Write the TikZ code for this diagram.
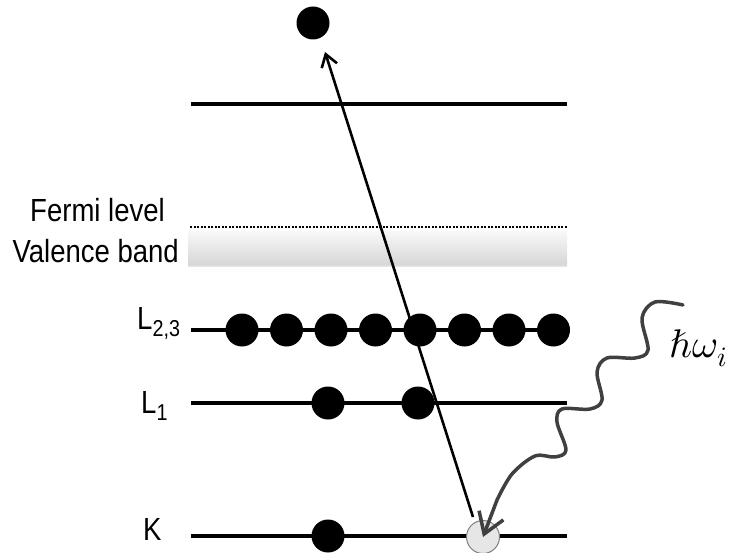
\documentclass[tikz,border=0pt]{standalone}
\usepackage{unicode-math}
\setmainfont{Liberation Sans}[FakeStretch=0.86]
\setmathfont{Latin Modern Math}
\usetikzlibrary{arrows.meta}
\definecolor{photon}{HTML}{404040}
\definecolor{vbTop}{HTML}{F7F7F7}
\definecolor{vbDark}{HTML}{D7D7D7}
\definecolor{vbBot}{HTML}{EBEBEB}
\definecolor{holefill}{HTML}{E6E6E6}
\definecolor{holeedge}{HTML}{7F7F7F}
\pgfdeclareverticalshading{vband}{100bp}{color(0bp)=(vbBot); color(25bp)=(vbBot); color(29bp)=(vbDark); color(75bp)=(vbTop); color(100bp)=(vbTop)}
\tikzset{
  level/.style={line width=3.2pt},
  electron/.style={circle, fill=black, inner sep=0pt, minimum size=33pt},
  hole/.style={circle, fill=holefill, draw=holeedge, line width=1pt, inner sep=0pt, minimum size=33pt},
  lbl/.style={font=\fontsize{32}{36}\selectfont, inner sep=0pt},
  photonline/.style={draw=photon, line width=3.5pt, line cap=round, line join=round},
  transition/.style={line width=2.6pt, -{Straight Barb[length=12pt,width=16pt,line width=2.6pt]}}
}
\begin{document}
\begin{tikzpicture}[x=1pt,y=-1pt]
\useasboundingbox (0,0) rectangle (733,553);
% level end points
\coordinate (topL) at (191,104);   \coordinate (topR) at (567,104);
\coordinate (fermiL) at (190,227); \coordinate (fermiR) at (567,227);
\coordinate (vbTL) at (188,232);   \coordinate (vbBR) at (567,267);
\coordinate (ltL) at (191,330);    \coordinate (ltR) at (567,330);
\coordinate (loL) at (191,403);    \coordinate (loR) at (567,403);
\coordinate (kL) at (191,536);     \coordinate (kR) at (567,536);
% valence band and Fermi level
\shade[shading=vband] (vbTL) rectangle (vbBR);
\draw[line width=2pt, dash pattern=on 2pt off 1.5pt] (fermiL) -- (fermiR);
% levels
\draw[level] (topL) -- (topR);
\draw[level] (ltL) -- (ltR);
\draw[level] (loL) -- (loR);
\draw[level] (kL) -- (kR);
% electrons
\node[electron] (e0) at (313,23) {};
\foreach \x [count=\i] in {242,286.5,331,375.5,420,464.5,509,553.5}
  \node[electron] (l23e\i) at (\x,330) {};
\node[electron] (l1a) at (328,403) {};
\node[electron] (l1b) at (418,403) {};
\node[electron] (ka) at (328,536) {};
\node[hole] (kh) at (483,537) {};
% labels
\node[lbl, anchor=base east] (tf) at (165,222) {Fermi level};
\node[lbl, anchor=base east] (tv) at (179,262) {Valence band};
\node[lbl, anchor=base west] (tl23) at (137,329) {L\raisebox{-7pt}{\fontsize{23}{24}\selectfont 2,3}};
\node[lbl, anchor=base west] (tl1) at (141,413) {L\raisebox{-7pt}{\fontsize{23}{24}\selectfont 1}};
\node[lbl, anchor=base west] (tk) at (143,540) {K};
\node[anchor=base west, inner sep=0pt, font=\fontsize{40}{44}\selectfont] (hw) at (669,357) {$ℏ\omega_i$};
% excitation arrow
\coordinate (arrS) at (473,517);
\coordinate (arrE) at (325,52);
\draw[transition] (arrS) -- (arrE);
% incoming photon
\coordinate (ph0) at (683,305);
\draw[photonline, -{Straight Barb[length=20pt,width=26pt,line width=3.5pt]}]
  plot[smooth, tension=0.55] coordinates {(ph0) (655,302) (642,318) (648,350) (635,358) (607,358) (597,372) (602,400) (590,409) (562,409) (557,422) (566,450) (555,457) (535,456) (512,474) (497,500)}
  -- (kh.center);
\end{tikzpicture}
\end{document}
